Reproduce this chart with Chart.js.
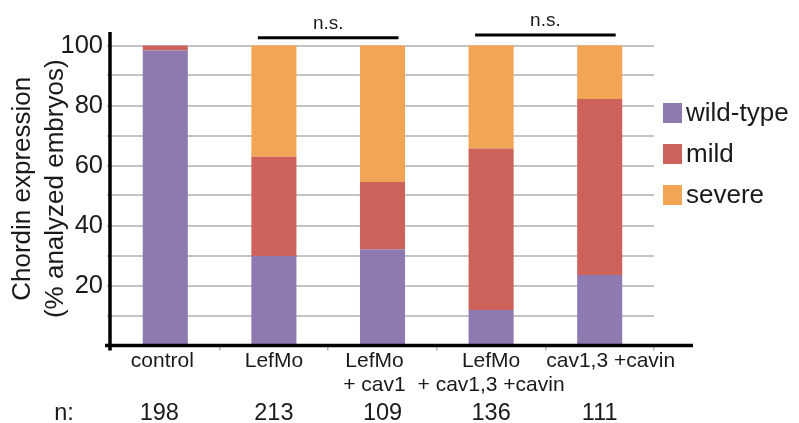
<!DOCTYPE html>
<html><head><meta charset="utf-8">
<script src="https://cdn.jsdelivr.net/npm/chart.js@4.4.1/dist/chart.umd.min.js"></script>
<style>html,body{margin:0;padding:0;background:#fff;} #wrap{width:799px;height:423px;position:relative;}</style>
</head><body><div id="wrap"><canvas id="c" width="799" height="423"></canvas></div>
<script>
// ---- data ----
const categories = [['control'], ['LefMo'], ['LefMo', '+ cav1'], ['LefMo', '+ cav1,3 +cavin'], ['cav1,3 +cavin']];
const seriesNames = ['wild-type', 'mild', 'severe'];
const wildType = [98.3, 29.8, 32.1, 11.8, 23.5];
const mild = [1.7, 33.1, 22.4, 53.9, 58.7];
const severe = [0, 37.1, 45.5, 34.3, 17.8];
const nCounts = [198, 213, 109, 136, 111];
const nLabel = 'n:';
const yTickValues = [10, 20, 30, 40, 50, 60, 70, 80, 90, 100];
const yTickLabels = ['', '20', '', '40', '', '60', '', '80', '', '100'];
const sigPairs = [[1, 2], [3, 4]];
const sigLabel = 'n.s.';

// ---- style ----
const FONT = '"Liberation Sans", Arial, Helvetica, sans-serif';
const colors = ['#8f79b1', '#cc6259', '#f2a554'];
const textColor = '#1a1a1a';
const labelShift = [-3, 0, -8, 0, 11];

const overlay = {
  id: 'overlay',
  afterDraw(chart) {
    const ctx = chart.ctx, a = chart.chartArea, x = chart.scales.x;
    ctx.save();
    // axes
    ctx.strokeStyle = '#000';
    ctx.lineWidth = 3.5;
    ctx.beginPath();
    ctx.moveTo(a.left - 1, a.top);
    ctx.lineTo(a.left - 1, a.bottom + 5);
    ctx.moveTo(a.left - 6, a.bottom);
    ctx.lineTo(a.right + 39, a.bottom);
    ctx.stroke();
    // category labels
    ctx.fillStyle = textColor;
    ctx.font = '21px ' + FONT;
    ctx.textAlign = 'center';
    ctx.textBaseline = 'alphabetic';
    chart.data.labels.forEach((lab, i) => {
      const cx = x.getPixelForValue(i) + labelShift[i];
      lab.forEach((line, j) => ctx.fillText(line, cx, 367 + j * 24));
    });
    // significance brackets
    const bracketY = [37.7, 35];
    const textY = [24, 21];
    ctx.lineWidth = 3;
    ctx.font = '19px ' + FONT;
    ctx.textBaseline = 'middle';
    sigPairs.forEach((p, i) => {
      const x1 = x.getPixelForValue(p[0]) - 16;
      const x2 = x.getPixelForValue(p[1]) + 16;
      ctx.beginPath();
      ctx.moveTo(x1, bracketY[i]);
      ctx.lineTo(x2, bracketY[i]);
      ctx.stroke();
      ctx.fillText(sigLabel, (x1 + x2) / 2, textY[i]);
    });
    // n row
    ctx.font = '23.5px ' + FONT;
    ctx.textBaseline = 'alphabetic';
    ctx.fillText(nLabel, 64, 420);
    nCounts.forEach((n, i) => {
      ctx.fillText(String(n), x.getPixelForValue(i) + (i === 0 ? -6 : 0), 420);
    });
    // legend
    ctx.font = '26px ' + FONT;
    ctx.textAlign = 'left';
    ctx.textBaseline = 'middle';
    chart.data.datasets.forEach((ds, i) => {
      const cy = 113 + i * 41;
      ctx.fillStyle = ds.backgroundColor;
      ctx.fillRect(a.right + 9, cy - 10, 19, 20);
      ctx.fillStyle = textColor;
      ctx.fillText(ds.label, a.right + 32, cy + 1);
    });
    ctx.restore();
  }
};

new Chart(document.getElementById('c'), {
  type: 'bar',
  data: {
    labels: categories,
    datasets: [
      { label: seriesNames[0], data: wildType, backgroundColor: colors[0] },
      { label: seriesNames[1], data: mild, backgroundColor: colors[1] },
      { label: seriesNames[2], data: severe, backgroundColor: colors[2] }
    ].map(d => Object.assign(d, { barPercentage: 0.415, categoryPercentage: 1, borderWidth: 0 }))
  },
  options: {
    responsive: false,
    devicePixelRatio: 1,
    animation: false,
    layout: { padding: { left: 0, right: 145, top: 32, bottom: 0 } },
    plugins: { legend: { display: false }, tooltip: { enabled: false } },
    scales: {
      x: {
        stacked: true,
        grid: { offset: true, drawOnChartArea: false, drawTicks: true, tickLength: 5, color: '#b8b8b8', lineWidth: 1.5 },
        border: { display: false },
        ticks: { display: false },
        afterFit: s => { s.height = 77.5; }
      },
      y: {
        stacked: true,
        min: 0,
        max: 104.5,
        afterBuildTicks: s => { s.ticks = yTickValues.map(v => ({ value: v })); },
        grid: { color: '#c4c4c4', lineWidth: 2, drawTicks: true, tickLength: 4 },
        border: { display: false },
        ticks: {
          font: { family: FONT, size: 25.5 }, color: textColor, padding: 4,
          callback: (v, i) => yTickLabels[i]
        },
        title: {
          display: true,
          text: ['Chordin expression', '(% analyzed embryos)'],
          font: { family: FONT, size: 26, lineHeight: 1.27 },
          color: textColor,
          padding: { top: 6.5, bottom: 0 }
        },
        afterFit: s => { s.width = 111; }
      }
    }
  },
  plugins: [overlay]
});
</script>
</body></html>
